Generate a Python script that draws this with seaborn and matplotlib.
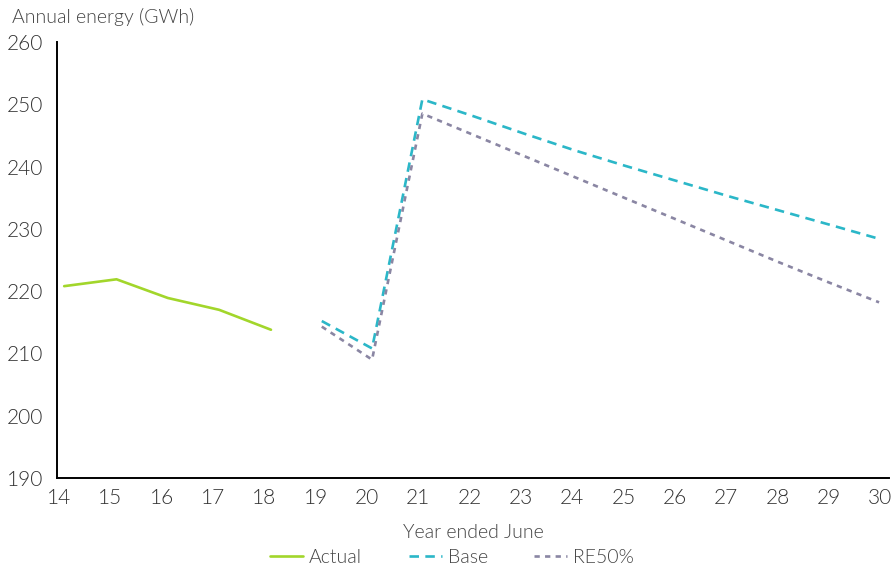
import matplotlib
matplotlib.use("Agg")
import matplotlib.pyplot as plt
import seaborn as sns
import pandas as pd

# ---- data ----
actual_x = [14.10, 15.12, 16.12, 17.12, 18.13]
actual_y = [220.8, 221.9, 218.9, 217.0, 213.8]

forecast_x = [19.12, 20.10, 21.08, 22.07, 23.06, 24.05, 25.04, 26.03, 27.02, 28.01, 29.00, 29.98]
base_y = [215.2, 210.8, 250.8, 248.1, 245.3, 242.6, 240.1, 237.7, 235.3, 233.0, 230.7, 228.4]
re50_y = [214.3, 209.0, 248.5, 245.1, 241.7, 238.3, 234.9, 231.5, 228.1, 224.7, 221.4, 218.2]

xticks = list(range(14, 31))
yticks = list(range(190, 261, 10))
series_names = ["Actual", "Base", "RE50%"]
colors = {"Actual": "#A2D62B", "Base": "#2BB7C8", "RE50%": "#8A86A3"}

df = pd.concat([
    pd.DataFrame({"x": actual_x, "y": actual_y, "series": "Actual"}),
    pd.DataFrame({"x": forecast_x, "y": base_y, "series": "Base"}),
    pd.DataFrame({"x": forecast_x, "y": re50_y, "series": "RE50%"}),
])

sns.set_theme(style="white")
plt.rcParams["font.family"] = ["Lato", "DejaVu Sans"]
plt.rcParams["font.weight"] = 300

fig = plt.figure(figsize=(8.96, 5.66), dpi=100)
ax = fig.add_axes([0.0636, 0.1555, 0.9284, 0.7703])

sns.lineplot(data=df, x="x", y="y", hue="series", style="series",
             hue_order=series_names, style_order=series_names,
             palette=colors,
             dashes={"Actual": "", "Base": (3.6, 2.4), "RE50%": (2.0, 2.0)},
             linewidth=1.9, ax=ax, legend=True, sort=False)

ax.set_xlim(13.96, 30.17)
ax.set_ylim(190, 260)
ax.set_xticks(xticks)
ax.set_xticklabels([str(t) for t in xticks], fontweight=300)
ax.set_yticks(yticks)
ax.set_yticklabels([str(t) for t in yticks], fontweight=300)
ax.tick_params(axis="both", length=0, labelsize=15, labelcolor="#333333")
ax.tick_params(axis="y", pad=10)
ax.tick_params(axis="x", pad=7)

for s in ["top", "right"]:
    ax.spines[s].set_visible(False)
for s in ["left", "bottom"]:
    ax.spines[s].set_color("black")
    ax.spines[s].set_linewidth(1.4)

ax.set_xlabel("Year ended June", fontsize=14, color="#444444", labelpad=12,
              fontweight=300)
ax.set_ylabel("")
fig.text(0.013, 0.97, "Annual energy (GWh)", fontsize=14, color="#444444",
         ha="left", va="center", fontweight=300)

leg = ax.legend(loc="center", bbox_to_anchor=(0.475, -0.183), ncol=3,
                frameon=False, fontsize=14, handlelength=1.7, columnspacing=2.4,
                handletextpad=0.3)
for t in leg.get_texts():
    t.set_color("#444444")
    t.set_fontweight(300)

fig.savefig("out.png", dpi=100)
